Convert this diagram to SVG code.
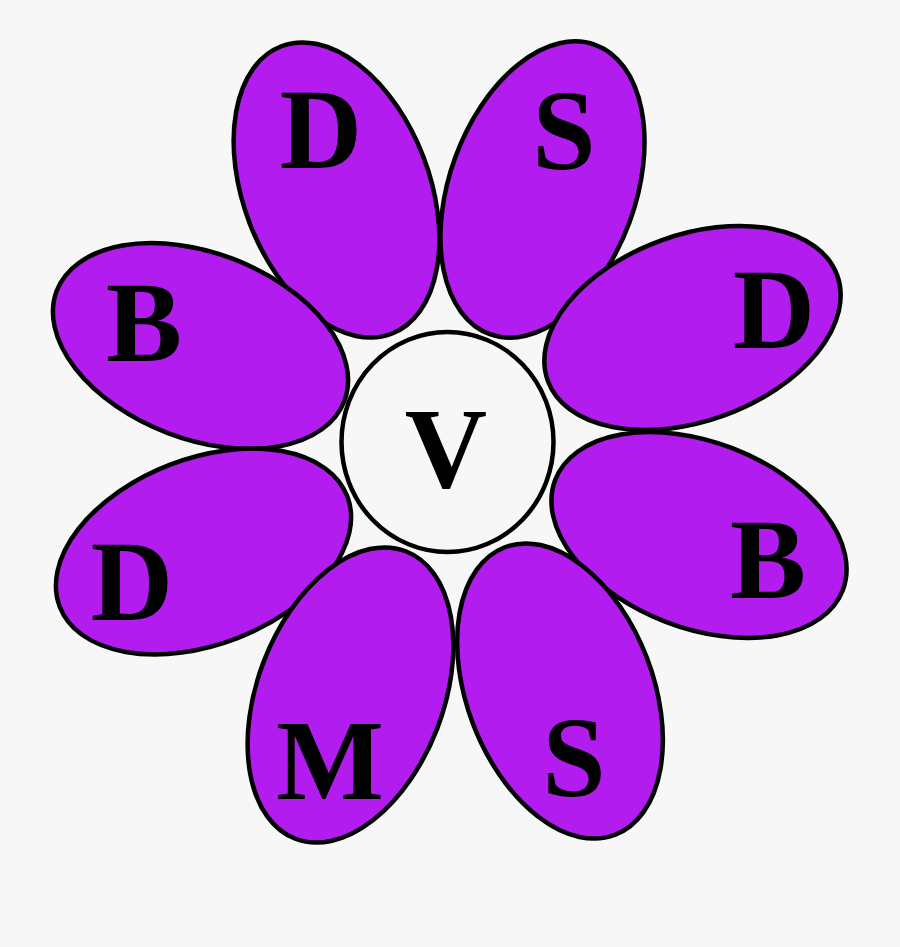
<svg xmlns="http://www.w3.org/2000/svg" width="900" height="947" viewBox="0 0 900 947">
<style>
.petal{fill:#b31cef;stroke:#000;stroke-width:4.5}
.core{fill:#f7f7f7;stroke:#000;stroke-width:4.5}
.lbl{font-family:"Liberation Serif","Times New Roman",serif;font-weight:bold;font-size:114px;fill:#000;text-anchor:middle}
</style>
<rect width="900" height="947" fill="#f7f7f7"/>
<g id="petal-d-top"><ellipse class="petal" cx="336.5" cy="190" rx="93" ry="154" transform="rotate(-21 336.5 190)"/><text class="lbl" x="321" y="168">D</text></g>
<g id="petal-s-top"><ellipse class="petal" cx="542.5" cy="189.5" rx="93" ry="154" transform="rotate(20 542.5 189.5)"/><text class="lbl" x="564" y="169">S</text></g>
<g id="petal-b-left"><ellipse class="petal" cx="200.5" cy="346" rx="154" ry="93" transform="rotate(21 200.5 346)"/><text class="lbl" x="144" y="361">B</text></g>
<g id="petal-d-right"><ellipse class="petal" cx="692.5" cy="328" rx="154" ry="93" transform="rotate(-20 692.5 328)"/><text class="lbl" x="774" y="348">D</text></g>
<g id="petal-b-right"><ellipse class="petal" cx="699" cy="535" rx="154" ry="93" transform="rotate(21 699 535)"/><text class="lbl" x="768" y="598">B</text></g>
<g id="petal-d-left"><ellipse class="petal" cx="203.5" cy="551.5" rx="154" ry="93" transform="rotate(-21 203.5 551.5)"/><text class="lbl" x="132" y="620">D</text></g>
<g id="petal-m"><ellipse class="petal" cx="350.5" cy="695" rx="93" ry="154" transform="rotate(21 350.5 695)"/><text class="lbl" x="330" y="799">M</text></g>
<g id="petal-s-bottom"><ellipse class="petal" cx="560" cy="691" rx="93" ry="154" transform="rotate(-21 560 691)"/><text class="lbl" x="574" y="796">S</text></g>
<g id="center"><ellipse class="core" cx="447.5" cy="442" rx="106" ry="110"/><text class="lbl" x="446" y="487">V</text></g>
<g id="connectors"/>
</svg>
